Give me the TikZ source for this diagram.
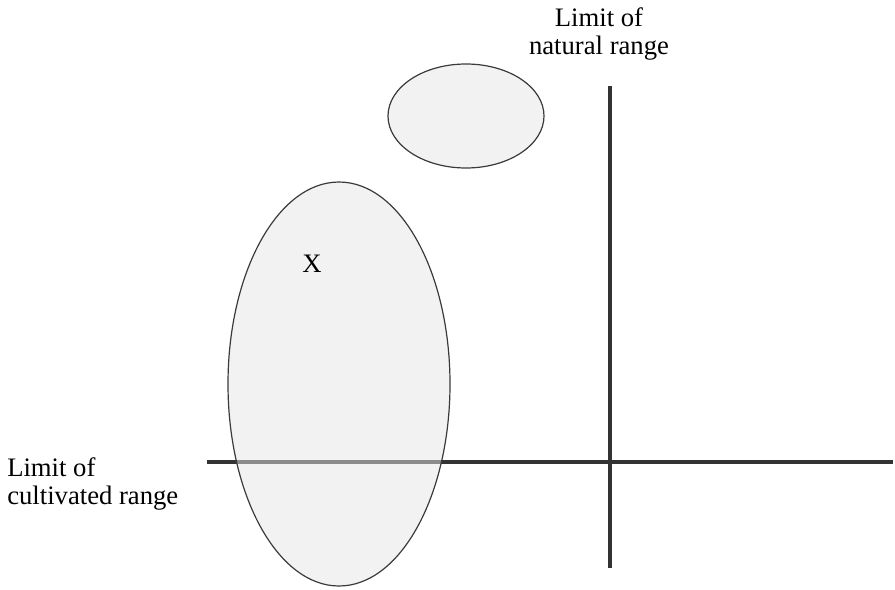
\documentclass[tikz,border=0pt]{standalone}
\usepackage{fontspec}
\setmainfont{Liberation Serif}
\usetikzlibrary{positioning}
\definecolor{LimitGray}{HTML}{333333}
\definecolor{RangeEdge}{HTML}{3A3A3A}

\begin{document}
\begin{tikzpicture}[x=0.75pt, y=-0.75pt,
    limitline/.style={line width=3pt, LimitGray},
    rangeblob/.style={draw=RangeEdge, line width=0.9pt, fill=black!10, fill opacity=0.5, draw opacity=1},
    lbl/.style={font=\fontsize{20pt}{21.5pt}\selectfont, inner sep=0pt, align=left}]
    \useasboundingbox (0,0) rectangle (895,589);

    % Limit lines
    \coordinate (natTop) at (610,86);
    \coordinate (natBot) at (610,568);
    \coordinate (culLeft) at (207,462);
    \coordinate (culRight) at (893,462);
    \draw[limitline] (natTop) -- (natBot);
    \draw[limitline] (culLeft) -- (culRight);

    % Ranges
    \draw[rangeblob] (339,384) ellipse (111 and 202);
    \draw[rangeblob] (466,116) ellipse (78 and 52);

    % Labels
    \node[lbl, align=center] (natLbl) at (599,34) {Limit of\\natural range};
    \node[lbl, anchor=west] (culLbl) at (7,484) {Limit of\\cultivated range};
    \node[lbl] (xLbl) at (312,264) {X};
\end{tikzpicture}
\end{document}
